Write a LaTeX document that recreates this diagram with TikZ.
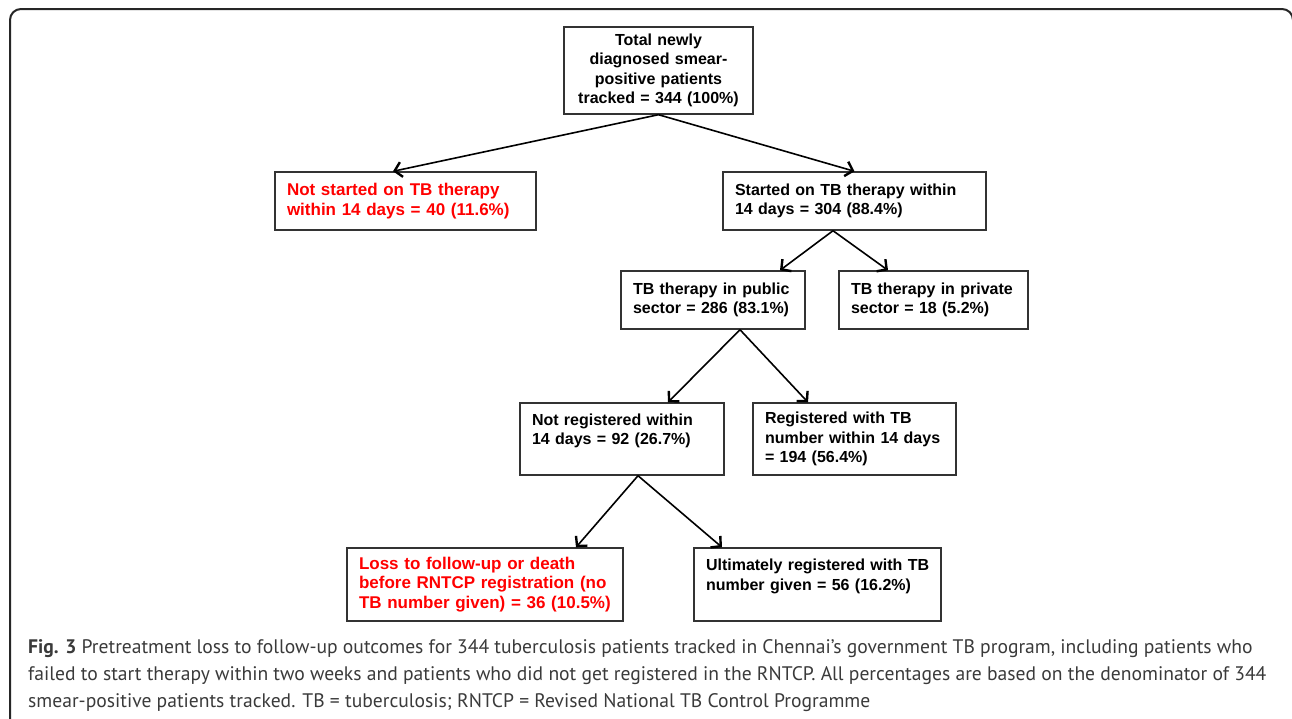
\documentclass[tikz,border=0pt]{standalone}
\usepackage{fontspec}
\setmainfont{Liberation Sans}
\newfontfamily\capfont{PT Sans}
\usetikzlibrary{arrows.meta,calc}
\definecolor{boxline}{HTML}{333333}
\definecolor{captext}{HTML}{3A3A3A}
\definecolor{redtext}{HTML}{FF0000}
\hbadness=10000 \hfuzz=100pt
\begin{document}
\begin{tikzpicture}[x=1pt,y=-1pt,
  box/.style={draw=boxline, line width=1.4pt, inner xsep=12pt, inner ysep=0pt, align=left,
    font=\fontsize{16}{19.5}\selectfont\bfseries, text=black},
  redbox/.style={box, text=redtext, font=\fontsize{17}{19.8}\selectfont\bfseries},
  conn/.style={line width=1.6pt, -{Straight Barb[length=7pt,width=15pt,line width=2.4pt]}},
  captext/.style={anchor=base west, inner sep=0pt, font=\capfont\fontsize{19.6}{24}\selectfont, text=captext}]
\useasboundingbox (0,0) rectangle (1292,718);
\begin{scope}
\clip (0,0) rectangle (1292,718);
\draw[line width=2pt, draw=black!85, rounded corners=11pt] (10,9) rectangle (1293,760);
\end{scope}
% boxes
\node[box, align=center, text width=165pt, minimum height=87pt] (top) at (658.5,70.5)
  {Total newly\\diagnosed smear-\\positive patients\\\mbox{tracked = 344 (100\%)}};
\node[redbox, text width=237pt, minimum height=58pt] (notstart) at (405.5,201)
  {\mbox{Not started on TB therapy}\\\mbox{within 14 days = 40 (11.6\%)}};
\node[box, text width=239pt, minimum height=58pt] (start) at (854.5,201)
  {\mbox{Started on TB therapy within}\\\mbox{14 days = 304 (88.4\%)}};
\node[box, text width=160pt, minimum height=58pt] (pub) at (713,300)
  {\mbox{TB therapy in public}\\\mbox{sector = 286 (83.1\%)}};
\node[box, text width=165pt, minimum height=58pt] (priv) at (933.5,300)
  {\mbox{TB therapy in private}\\\mbox{sector = 18 (5.2\%)}};
\node[box, text width=180pt, minimum height=72pt] (notreg) at (622,439)
  {\mbox{Not registered within}\\\mbox{14 days = 92 (26.7\%)}\\\mbox{}};
\node[box, text width=179pt, minimum height=72pt] (reg) at (854.5,439)
  {\mbox{Registered with TB}\\\mbox{number within 14 days}\\\mbox{= 194 (56.4\%)}};
\node[redbox, text width=252pt, minimum height=73pt] (loss) at (485,584.5)
  {\mbox{Loss to follow-up or death}\\\mbox{before RNTCP registration (no}\\\mbox{TB number given) = 36 (10.5\%)}};
\node[box, text width=223pt, minimum height=73pt] (ult) at (817.5,584.5)
  {\mbox{Ultimately registered with TB}\\\mbox{number given = 56 (16.2\%)}\\\mbox{}};
% connectors
\draw[conn] (top.south) -- ([xshift=-12.5pt]notstart.north);
\draw[conn] (top.south) -- (start.north);
\draw[conn] ([xshift=-21.5pt]start.south) -- ([xshift=67pt]pub.north);
\draw[conn] ([xshift=-21.5pt]start.south) -- ([xshift=-45.5pt]priv.north);
\draw[conn] ([xshift=27pt]pub.south) -- ([xshift=46pt]notreg.north);
\draw[conn] ([xshift=27pt]pub.south) -- ([xshift=-46.5pt]reg.north);
\draw[conn] ([xshift=16pt]notreg.south) -- ([xshift=91pt]loss.north);
\draw[conn] ([xshift=16pt]notreg.south) -- ([xshift=-95.5pt]ult.north);
% caption
\node[captext] (cap1) at (28,653) {\textbf{Fig. 3} Pretreatment loss to follow-up outcomes for 344 tuberculosis patients tracked in Chennai’s government TB program, including patients who};
\node[captext] (cap2) at (28,680) {failed to start therapy within two weeks and patients who did not get registered in the RNTCP. All percentages are based on the denominator of 344};
\node[captext] (cap3) at (28,707) {smear-positive patients tracked. TB = tuberculosis; RNTCP = Revised National TB Control Programme};
\end{tikzpicture}
\end{document}
